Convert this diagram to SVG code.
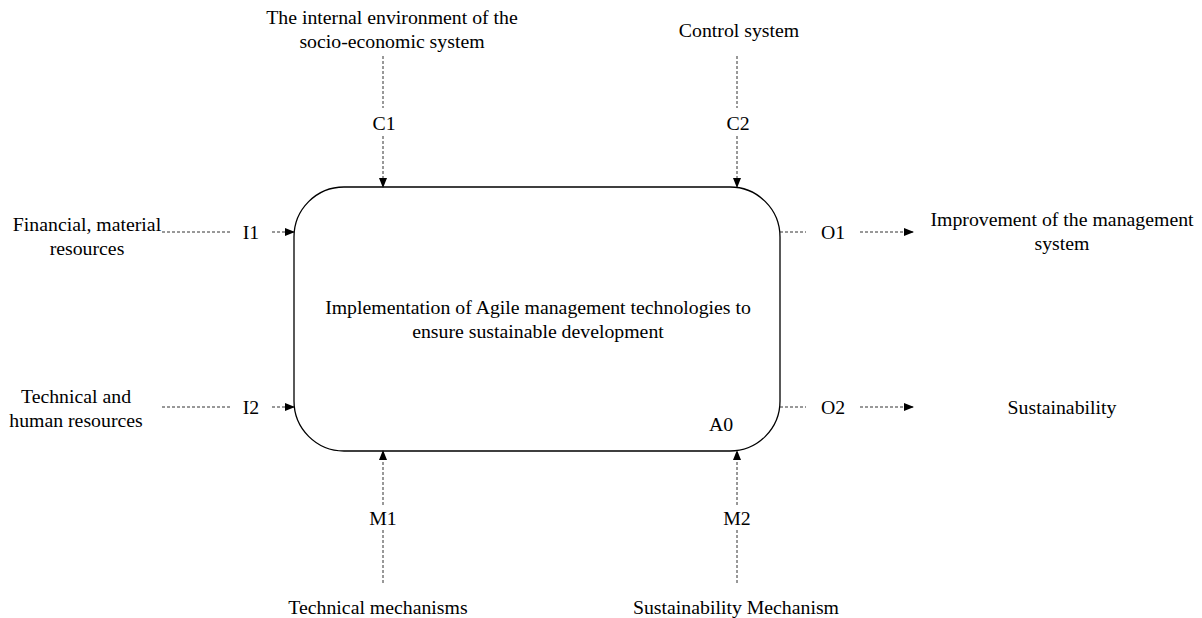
<svg xmlns="http://www.w3.org/2000/svg" width="1202" height="618" viewBox="0 0 1202 618">
<defs>
<marker id="ah" markerWidth="10" markerHeight="8" refX="9" refY="4" orient="auto" markerUnits="userSpaceOnUse">
<path d="M0,0 L10,4 L0,8 Z" fill="#000"/>
</marker>
<style>
text{font-family:"Liberation Serif","Times New Roman",serif;font-size:19.8px;fill:#000}
.m{text-anchor:middle}
.d{stroke:#333;stroke-width:1;stroke-dasharray:3,2;fill:none}
.a{marker-end:url(#ah)}
</style>
</defs>
<rect width="1202" height="618" fill="#fff"/>
<g id="A0">
<rect x="294" y="187" width="486" height="264" rx="50" ry="50" fill="#fff" stroke="#000" stroke-width="1.3"/>
<text class="m" x="538" y="314">Implementation of Agile management technologies to</text>
<text class="m" x="538" y="338">ensure sustainable development</text>
<text x="709" y="431">A0</text>
</g>
<g id="connectors">
<path class="d" d="M383,56 V108"/>
<path class="d a" d="M383,136 V187"/>
<path class="d" d="M737,56 V108"/>
<path class="d a" d="M737,136 V187"/>
<path class="d a" d="M383,505 V451"/>
<path class="d" d="M383,583 V530"/>
<path class="d a" d="M737,505 V451"/>
<path class="d" d="M737,583 V530"/>
<path class="d" d="M162,232 H230"/>
<path class="d a" d="M272,232 H294"/>
<path class="d" d="M162,407 H230"/>
<path class="d a" d="M272,407 H294"/>
<path class="d" d="M780,232 H806"/>
<path class="d a" d="M860,232 H913"/>
<path class="d" d="M780,407 H806"/>
<path class="d a" d="M860,407 H913"/>
</g>
<g id="labels">
<text class="m" x="384" y="130">C1</text>
<text class="m" x="738" y="130">C2</text>
<text class="m" x="383" y="525">M1</text>
<text class="m" x="737" y="525">M2</text>
<text class="m" x="251" y="239">I1</text>
<text class="m" x="251" y="414">I2</text>
<text class="m" x="833" y="239">O1</text>
<text class="m" x="833" y="414">O2</text>
</g>
<g id="C1-source"><text class="m" x="392" y="24">The internal environment of the</text><text class="m" x="392" y="48">socio-economic system</text></g>
<g id="C2-source"><text class="m" x="739" y="37">Control system</text></g>
<g id="I1-source"><text class="m" x="87" y="231">Financial, material</text><text class="m" x="87" y="255">resources</text></g>
<g id="I2-source"><text class="m" x="76" y="403">Technical and</text><text class="m" x="76" y="427">human resources</text></g>
<g id="O1-target"><text class="m" x="1062" y="226">Improvement of the management</text><text class="m" x="1062" y="250">system</text></g>
<g id="O2-target"><text class="m" x="1062" y="414">Sustainability</text></g>
<g id="M1-source"><text class="m" x="378" y="614">Technical mechanisms</text></g>
<g id="M2-source"><text class="m" x="736" y="614">Sustainability Mechanism</text></g>
</svg>
